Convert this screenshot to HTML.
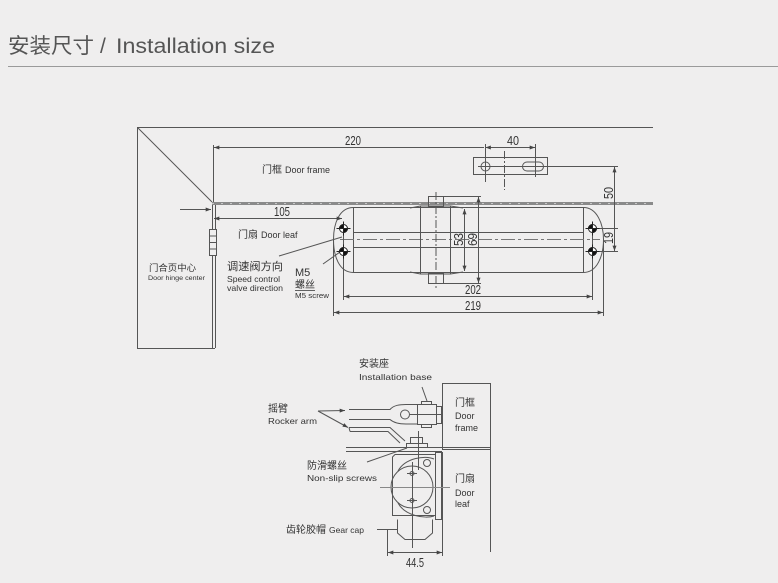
<!DOCTYPE html>
<html><head><meta charset="utf-8"><style>
html,body{margin:0;padding:0;background:#efeeee;}
svg{display:block;}
text{font-family:"Liberation Sans","Noto Sans CJK SC",sans-serif;fill:#333;}
.cn{font-family:"Noto Sans CJK SC","Liberation Sans",sans-serif;}
.dim{font-family:"Liberation Sans",sans-serif;fill:#333;}
</style></head><body>
<svg width="778" height="583" viewBox="0 0 778 583" xmlns="http://www.w3.org/2000/svg">
<defs>
<marker id="a" viewBox="0 0 8 6" refX="8" refY="3" markerWidth="6" markerHeight="4" orient="auto-start-reverse"><path d="M0,0 L8,3 L0,6 z" fill="#444"/></marker>
</defs>
<!-- header -->
<text x="8" y="53" font-size="21" fill="#555" style="fill:#555"><tspan class="cn" textLength="86" lengthAdjust="spacingAndGlyphs">安装尺寸</tspan></text>
<text x="100" y="53" font-size="21" style="fill:#555">/</text>
<text x="116" y="53" font-size="21" textLength="159" lengthAdjust="spacingAndGlyphs" style="fill:#555">Installation size</text>
<line x1="8" y1="66.5" x2="778" y2="66.5" stroke="#9a9a9a" stroke-width="1"/>

<g stroke="#555" stroke-width="1" fill="none">
<!-- top diagram frame -->
<polyline points="653,127.5 137.5,127.5 137.5,348.5 215,348.5"/>
<line x1="137.5" y1="127.5" x2="212" y2="202"/>
<line x1="212.5" y1="202" x2="212.5" y2="348"/>
<line x1="215.5" y1="205" x2="215.5" y2="348"/>
<!-- door frame line -->
<line x1="212" y1="203.5" x2="653" y2="203.5" stroke="#8a8a8a" stroke-width="3"/>
<line x1="212" y1="203.5" x2="653" y2="203.5" stroke="#c8c8c8" stroke-width="1" stroke-dasharray="2 7"/>
<!-- 220 -->
<line x1="213.5" y1="145" x2="213.5" y2="202"/>
<line x1="214" y1="147.5" x2="484" y2="147.5" marker-start="url(#a)"/>
<!-- 40 -->
<line x1="485.5" y1="147.5" x2="535" y2="147.5" marker-start="url(#a)" marker-end="url(#a)"/>
<line x1="485.5" y1="144" x2="485.5" y2="182"/>
<line x1="535.5" y1="144" x2="535.5" y2="177"/>
<line x1="504.5" y1="151" x2="504.5" y2="190" stroke-dasharray="8 2 2 2"/>
<!-- bracket -->
<rect x="473.5" y="157.5" width="74" height="17"/>
<circle cx="485.5" cy="166.5" r="4.5"/>
<rect x="522.5" y="162" width="21" height="9" rx="4.5"/>
<line x1="478" y1="166.5" x2="618" y2="166.5"/>
<!-- 50 / 19 -->
<line x1="614.5" y1="167" x2="614.5" y2="251" marker-start="url(#a)" marker-end="url(#a)"/>
<line x1="596" y1="228.5" x2="618" y2="228.5"/>
<line x1="596" y1="251.5" x2="618" y2="251.5"/>
<!-- closer body -->
<path d="M353.5,207.5 L583.5,207.5 C597,207.5 603.5,224 603.5,239.5 C603.5,256 597,272.5 583.5,272.5 L353.5,272.5 C339,272.5 333.5,256 333.5,239.5 C333.5,224 339,207.5 353.5,207.5 Z"/>
<line x1="353.5" y1="207.5" x2="353.5" y2="272.5"/>
<line x1="583.5" y1="207.5" x2="583.5" y2="272.5"/>
<line x1="353" y1="232.5" x2="583" y2="232.5"/>
<line x1="353" y1="247.5" x2="583" y2="247.5"/>
<line x1="340" y1="239.5" x2="600" y2="239.5" stroke-dasharray="14 3 3 3" stroke="#777"/>
<!-- gear housing -->
<path d="M410,208 L420.5,206 L450.5,206 L463,208"/>
<path d="M410,272 L420.5,274 L450.5,274 L463,272"/>
<line x1="420.5" y1="206" x2="420.5" y2="274"/>
<line x1="450.5" y1="206" x2="450.5" y2="274"/>
<rect x="428.5" y="196.5" width="15" height="10"/>
<rect x="428.5" y="273.5" width="15" height="10"/>
<line x1="436" y1="192" x2="436" y2="288" stroke-dasharray="8 2 2 2"/>
<!-- 53 / 69 -->
<line x1="464.5" y1="209" x2="464.5" y2="271" marker-start="url(#a)" marker-end="url(#a)"/>
<line x1="478.5" y1="197" x2="478.5" y2="283" marker-start="url(#a)" marker-end="url(#a)"/>
<line x1="443" y1="196.5" x2="481" y2="196.5"/>
<line x1="443" y1="283.5" x2="481" y2="283.5"/>
<!-- 202 / 219 -->
<line x1="343.5" y1="232" x2="343.5" y2="300"/>
<line x1="592.5" y1="232" x2="592.5" y2="300"/>
<line x1="333.5" y1="240" x2="333.5" y2="316"/>
<line x1="603.5" y1="240" x2="603.5" y2="316"/>
<line x1="344" y1="296.5" x2="592" y2="296.5" marker-start="url(#a)" marker-end="url(#a)"/>
<line x1="334" y1="312.5" x2="603" y2="312.5" marker-start="url(#a)" marker-end="url(#a)"/>
<!-- 105 -->
<line x1="214" y1="218.5" x2="342" y2="218.5" marker-start="url(#a)" marker-end="url(#a)"/>
<!-- hinge arrow -->
<line x1="180" y1="209.5" x2="211" y2="209.5" marker-end="url(#a)"/>
<rect x="209.5" y="229.5" width="7" height="26" fill="#efeeee"/>
<line x1="209.5" y1="236" x2="216.5" y2="236"/>
<line x1="209.5" y1="242.5" x2="216.5" y2="242.5"/>
<line x1="209.5" y1="249" x2="216.5" y2="249"/>
<!-- leaders -->
<line x1="279" y1="256" x2="342" y2="237"/>
<line x1="323" y1="264" x2="340" y2="252"/>
</g>
<!-- screw holes -->
<g stroke="#222" stroke-width="1">
<g transform="translate(343.5,228.5)"><circle r="4" fill="#fff"/><path d="M0,0 L-4,0 A4,4 0 0 1 0,-4 Z M0,0 L4,0 A4,4 0 0 1 0,4 Z" fill="#111"/><line x1="-7" y1="0" x2="7" y2="0"/><line x1="0" y1="-7" x2="0" y2="7"/></g>
<g transform="translate(343.5,251.5)"><circle r="4" fill="#fff"/><path d="M0,0 L-4,0 A4,4 0 0 1 0,-4 Z M0,0 L4,0 A4,4 0 0 1 0,4 Z" fill="#111"/><line x1="-7" y1="0" x2="7" y2="0"/><line x1="0" y1="-7" x2="0" y2="7"/></g>
<g transform="translate(592.5,228.5)"><circle r="4" fill="#fff"/><path d="M0,0 L-4,0 A4,4 0 0 1 0,-4 Z M0,0 L4,0 A4,4 0 0 1 0,4 Z" fill="#111"/><line x1="-7" y1="0" x2="7" y2="0"/><line x1="0" y1="-7" x2="0" y2="7"/></g>
<g transform="translate(592.5,251.5)"><circle r="4" fill="#fff"/><path d="M0,0 L-4,0 A4,4 0 0 1 0,-4 Z M0,0 L4,0 A4,4 0 0 1 0,4 Z" fill="#111"/><line x1="-7" y1="0" x2="7" y2="0"/><line x1="0" y1="-7" x2="0" y2="7"/></g>
</g>
<!-- top labels -->
<text class="dim" x="345" y="145" font-size="13" textLength="16" lengthAdjust="spacingAndGlyphs">220</text>
<text class="dim" x="507" y="145" font-size="13" textLength="12" lengthAdjust="spacingAndGlyphs">40</text>
<text class="dim" x="274" y="216" font-size="13" textLength="16" lengthAdjust="spacingAndGlyphs">105</text>
<text class="dim" x="465" y="294" font-size="13" textLength="16" lengthAdjust="spacingAndGlyphs">202</text>
<text class="dim" x="465" y="310" font-size="13" textLength="16" lengthAdjust="spacingAndGlyphs">219</text>
<text class="dim" font-size="13" transform="translate(613,199) rotate(-90)" textLength="12" lengthAdjust="spacingAndGlyphs">50</text>
<text class="dim" font-size="13" transform="translate(613,244) rotate(-90)" textLength="12" lengthAdjust="spacingAndGlyphs">19</text>
<text class="dim" font-size="13" transform="translate(463,246) rotate(-90)" textLength="13" lengthAdjust="spacingAndGlyphs">53</text>
<text class="dim" font-size="13" transform="translate(477,246) rotate(-90)" textLength="13" lengthAdjust="spacingAndGlyphs">69</text>

<text x="262" y="173" font-size="10"><tspan class="cn">门框</tspan><tspan dx="3" font-size="9">Door frame</tspan></text>
<text x="238" y="238" font-size="10"><tspan class="cn">门扇</tspan><tspan dx="3" font-size="9">Door leaf</tspan></text>
<text class="cn" x="149" y="271" font-size="9" textLength="47" lengthAdjust="spacingAndGlyphs">门合页中心</text>
<text x="148" y="280" font-size="6.5" textLength="57" lengthAdjust="spacingAndGlyphs">Door hinge center</text>
<text class="cn" x="227" y="270" font-size="11" textLength="56" lengthAdjust="spacingAndGlyphs">调速阀方向</text>
<text x="227" y="282" font-size="8.5" textLength="53" lengthAdjust="spacingAndGlyphs">Speed control</text>
<text x="227" y="291" font-size="8.5" textLength="56" lengthAdjust="spacingAndGlyphs">valve direction</text>
<text x="295" y="276" font-size="11">M5</text>
<text class="cn" x="295" y="288" font-size="10">螺丝</text>
<line x1="295" y1="290.5" x2="315" y2="290.5" stroke="#333" stroke-width="0.8"/>
<text x="295" y="298" font-size="7.5" textLength="34" lengthAdjust="spacingAndGlyphs">M5 screw</text>

<!-- bottom diagram -->
<g stroke="#555" stroke-width="1" fill="none">
<rect x="442.5" y="383.5" width="48" height="66"/>
<line x1="490.5" y1="449" x2="490.5" y2="552"/>
<line x1="442.5" y1="452" x2="442.5" y2="556"/>
<line x1="346" y1="447.5" x2="490" y2="447.5"/>
<line x1="346" y1="451.5" x2="442" y2="451.5"/>
<!-- upper arm -->
<path d="M349,409.5 L390,409.5 C394,405 400,404.5 406,404.5 L417,404.5"/>
<path d="M349,419.5 L390,419.5 C394,423 400,424 406,424 L417,424"/>
<circle cx="405" cy="414.5" r="4.5"/>
<rect x="417.5" y="404.5" width="19" height="20"/>
<rect x="421.5" y="401.5" width="10" height="3"/>
<rect x="421.5" y="424.5" width="10" height="3"/>
<rect x="436.5" y="406.5" width="5" height="17"/>
<line x1="410" y1="414.5" x2="442" y2="414.5"/>
<line x1="422" y1="387" x2="427" y2="401"/>
<!-- lower arm -->
<path d="M349,427.5 L390,427.5 L405,441"/>
<path d="M350,431.5 L388,431.5 L400,443"/>
<line x1="349" y1="427.5" x2="350" y2="431.5"/>
<!-- pivot -->
<rect x="410.5" y="437.5" width="12" height="6"/>
<rect x="406.5" y="443.5" width="21" height="4"/>
<line x1="418.5" y1="431" x2="418.5" y2="470"/>
<!-- leaders -->
<line x1="318" y1="411" x2="345" y2="410.5" marker-end="url(#a)"/>
<line x1="318" y1="411" x2="348" y2="427.5" marker-end="url(#a)"/>
<line x1="367" y1="462" x2="407" y2="448"/>
<line x1="377" y1="529.5" x2="397" y2="529.5"/>
<!-- closer side view -->
<path d="M392.5,457 L395,454.5 L435.5,454.5 L435.5,515.5 L392.5,515.5 Z"/>
<rect x="435.5" y="452.5" width="6" height="67"/>
<path d="M398,471 C405,458 425,455 434,459"/>
<path d="M398,503 C405,516 425,519 434,516"/>
<circle cx="412" cy="487" r="21"/>
<line x1="380" y1="487.5" x2="450" y2="487.5" stroke="#888"/>
<line x1="412.5" y1="462" x2="412.5" y2="548"/>
<circle cx="427" cy="463" r="3.5"/>
<circle cx="427" cy="510" r="3.5"/>
<line x1="407" y1="473.5" x2="417" y2="473.5"/>
<circle cx="412" cy="473.5" r="2"/>
<line x1="407" y1="500.5" x2="417" y2="500.5"/>
<circle cx="412" cy="500.5" r="2"/>
<path d="M397.5,519.5 L397.5,533 L405,539.5 L425,539.5 L432.5,533 L432.5,519.5"/>
<!-- 44.5 -->
<line x1="387.5" y1="530" x2="387.5" y2="556"/>
<line x1="388" y1="552.5" x2="442" y2="552.5" marker-start="url(#a)" marker-end="url(#a)"/>
</g>
<text class="cn" x="359" y="367" font-size="10">安装座</text>
<text x="359" y="380" font-size="8.5" textLength="73" lengthAdjust="spacingAndGlyphs">Installation base</text>
<text class="cn" x="268" y="412" font-size="10">摇臂</text>
<text x="268" y="424" font-size="8.5" textLength="49" lengthAdjust="spacingAndGlyphs">Rocker arm</text>
<text class="cn" x="307" y="469" font-size="10">防滑螺丝</text>
<text x="307" y="481" font-size="8.5" textLength="70" lengthAdjust="spacingAndGlyphs">Non-slip screws</text>
<text x="286" y="533" font-size="10"><tspan class="cn">齿轮胶帽</tspan><tspan dx="3" font-size="8.5">Gear cap</tspan></text>
<text class="cn" x="455" y="406" font-size="10">门框</text>
<text x="455" y="419" font-size="9">Door</text>
<text x="455" y="431" font-size="9">frame</text>
<text class="cn" x="455" y="482" font-size="10">门扇</text>
<text x="455" y="496" font-size="9">Door</text>
<text x="455" y="507" font-size="9">leaf</text>
<text class="dim" x="406" y="567" font-size="13" textLength="18" lengthAdjust="spacingAndGlyphs">44.5</text>
</svg>
</body></html>
